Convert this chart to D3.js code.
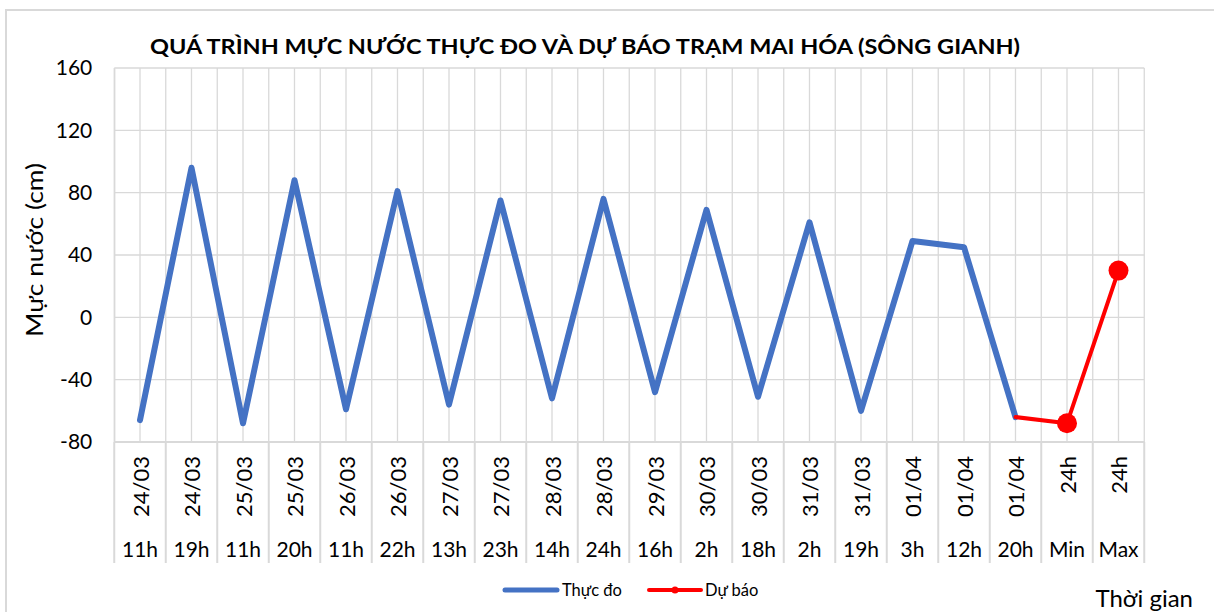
<!DOCTYPE html>
<html><head><meta charset="utf-8">
<script src="https://cdn.jsdelivr.net/npm/d3@7"></script>
<style>body{margin:0;background:#fff}svg{display:block}text{font-family:Lato,"Open Sans",sans-serif;fill:#000}</style>
</head><body><svg id="c" width="1214" height="612"></svg>
<script>
const dates = ["24/03","24/03","25/03","25/03","26/03","26/03","27/03","27/03","28/03","28/03","29/03","30/03","30/03","31/03","31/03","01/04","01/04","01/04","24h","24h"];
const hours = ["11h","19h","11h","20h","11h","22h","13h","23h","14h","24h","16h","2h","18h","2h","19h","3h","12h","20h","Min","Max"];
const observed = [-66,96,-68,88,-59,81,-56,75,-52,76,-48,69,-51,61,-60,49,45,-64,null,null];
const forecast = [null,null,null,null,null,null,null,null,null,null,null,null,null,null,null,null,null,-64,-68,30];
const yTicks = [-80,-40,0,40,80,120,160];
const title = "QUÁ TRÌNH MỰC NƯỚC THỰC ĐO VÀ DỰ BÁO TRẠM MAI HÓA (SÔNG GIANH)";

const svg = d3.select("#c");
const L = 114.25, R = 1144.25, T = 68, B = 442, AX = 563;
const grid = "#d9d9d9";
const idx = d3.range(dates.length);
const x = d3.scaleBand().domain(idx).range([L, R]).paddingInner(0).paddingOuter(0);
const cx = i => x(i) + x.bandwidth()/2;
const y = d3.scaleLinear().domain([-80,160]).range([B, T]);

// outer frame
svg.append("rect").attr("x",6).attr("y",10).attr("width",1230).attr("height",700)
  .attr("fill","none").attr("stroke","#d9d9d9").attr("stroke-width",2);

// vertical gridlines (band edges and centers)
const vx = [];
idx.forEach(i => { vx.push(x(i)); vx.push(cx(i)); });
vx.push(R);
svg.append("g").selectAll("line").data(vx).join("line")
  .attr("x1",d=>d).attr("x2",d=>d).attr("y1",T).attr("y2",B)
  .attr("stroke",grid).attr("stroke-width",1.3);

// horizontal gridlines
svg.append("g").selectAll("line").data(yTicks).join("line")
  .attr("x1",L).attr("x2",R).attr("y1",d=>y(d)).attr("y2",d=>y(d))
  .attr("stroke",grid).attr("stroke-width",1.3);

// y axis via d3
const yAxis = d3.axisLeft(y).tickValues(yTicks).tickSize(0).tickPadding(22).tickFormat(d=>String(d));
const ya = svg.append("g").attr("transform",`translate(${L},0)`).call(yAxis);
ya.select(".domain").attr("stroke",grid).attr("stroke-width",1.3);
ya.selectAll("text").attr("font-size",21).attr("font-family","Lato, sans-serif").attr("fill","#000");

// category box
const sep = idx.map(i => x(i)).concat([R]);
svg.append("g").selectAll("line").data(sep).join("line")
  .attr("x1",d=>d).attr("x2",d=>d).attr("y1",B).attr("y2",AX)
  .attr("stroke",grid).attr("stroke-width",2);
svg.append("line").attr("x1",L).attr("x2",R).attr("y1",B).attr("y2",B).attr("stroke",grid).attr("stroke-width",2);

// date labels rotated
svg.append("g").selectAll("text").data(idx).join("text")
  .attr("transform",i=>`translate(${cx(i)},456) rotate(-90)`)
  .attr("text-anchor","end").attr("dominant-baseline","central")
  .attr("font-size",22).text(i=>dates[i]);
// hour labels
svg.append("g").selectAll("text").data(idx).join("text")
  .attr("x",i=>cx(i)).attr("y",548).attr("text-anchor","middle").attr("dominant-baseline","central")
  .attr("font-size",21).text(i=>hours[i]);

// lines
const line = d3.line().defined(d=>d.v!==null).x(d=>cx(d.i)).y(d=>y(d.v));
svg.append("path").datum(observed.map((v,i)=>({i,v})))
  .attr("d",line).attr("fill","none").attr("stroke","#4472C4").attr("stroke-width",6)
  .attr("stroke-linejoin","round").attr("stroke-linecap","round");
const fc = forecast.map((v,i)=>({i,v}));
svg.append("path").datum(fc)
  .attr("d",line).attr("fill","none").attr("stroke","#FF0000").attr("stroke-width",4)
  .attr("stroke-linejoin","round").attr("stroke-linecap","round");
const fPts = fc.filter(d=>d.v!==null);
svg.append("g").selectAll("circle").data(fPts.slice(1)).join("circle")
  .attr("cx",d=>cx(d.i)).attr("cy",d=>y(d.v)).attr("r",10).attr("fill","#FF0000");

// title
svg.append("text").attr("x",585).attr("y",54).attr("text-anchor","middle")
  .attr("font-size",21).attr("font-weight","bold").attr("textLength",870).attr("lengthAdjust","spacingAndGlyphs").text(title);

// y axis title
svg.append("text").attr("transform","translate(33,250) rotate(-90)").attr("text-anchor","middle")
  .attr("dominant-baseline","central").attr("font-size",24).attr("textLength",174).attr("lengthAdjust","spacingAndGlyphs").text("Mực nước (cm)");

// legend
const lg = svg.append("g");
lg.append("line").attr("x1",505).attr("x2",557).attr("y1",590).attr("y2",590).attr("stroke","#4472C4").attr("stroke-width",5).attr("stroke-linecap","round");
lg.append("text").attr("x",562).attr("y",590).attr("dominant-baseline","central").attr("font-size",16.5).text("Thực đo");
lg.append("line").attr("x1",649).attr("x2",701).attr("y1",590).attr("y2",590).attr("stroke","#FF0000").attr("stroke-width",4).attr("stroke-linecap","round");
lg.append("circle").attr("cx",675).attr("cy",590).attr("r",3.5).attr("fill","#FF0000");
lg.append("text").attr("x",705).attr("y",590).attr("dominant-baseline","central").attr("font-size",16.5).text("Dự báo");

// x axis title
svg.append("text").attr("x",1193).attr("y",597).attr("text-anchor","end").attr("dominant-baseline","central")
  .attr("font-size",24).text("Thời gian");
</script></body></html>
